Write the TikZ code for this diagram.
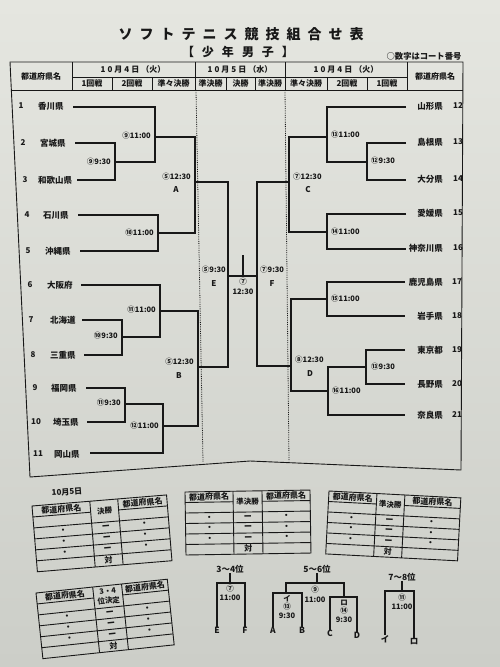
\documentclass[tikz,border=0pt]{standalone}
\usepackage{fontspec}
\setmainfont{Noto Sans CJK JP}
\definecolor{ink}{RGB}{24,24,24}
\definecolor{papertop}{RGB}{229,230,224}
\definecolor{paperbot}{RGB}{204,206,200}
\newcommand\gapa{\hspace{2pt}}
\newcommand\gapt{\hspace{7pt}}
\newcommand\gaps{\hspace{8pt}}
\tikzset{
  ln/.style={draw=ink, line width=1.1pt},
  tl/.style={draw=ink, line width=0.9pt},
  dl/.style={draw=ink, line width=0.8pt, densely dotted},
  tm/.style={font=\fontsize{8.5}{8.5}\selectfont\bfseries, text=ink, inner sep=0pt},
  nm/.style={font=\fontsize{8}{8}\selectfont\bfseries, text=ink, inner sep=0pt},
  ct/.style={font=\fontsize{7.5}{7.5}\selectfont\bfseries, text=ink, inner sep=0pt},
  hd/.style={font=\fontsize{8}{8.5}\selectfont\bfseries, text=ink, inner sep=0pt},
  lt/.style={font=\fontsize{8.5}{8.5}\selectfont\bfseries, text=ink, inner sep=0pt},
}
\newcommand\kumitable[8]{%
 \begin{scope}[shift={#2}, rotate=#3, transform shape]
  \draw[tl] (0,0) rectangle (#6,{6*#7});
  \draw[tl] (#4,0) -- (#4,{6*#7}) (#5,0) -- (#5,{6*#7});
  \draw[tl] (0,#7) -- (#4,#7) (#5,#7) -- (#6,#7);
  \foreach \r in {2,3,4,5} \draw[tl] (0,{\r*#7}) -- (#6,{\r*#7});
  \node[hd] (#1a) at ({#4/2},{#7/2}) {都道府県名};
  \node[hd] (#1c) at ({(#5+#6)/2},{#7/2}) {都道府県名};
  \node[hd, align=center, font=\fontsize{7.5}{9.5}\selectfont\bfseries] (#1b) at ({(#4+#5)/2},#7) {#8};
  \foreach \r in {2,3,4} {
    \node[hd] (#1l\r) at ({#4/2},{(\r+0.5)*#7}) {・};
    \node[hd] (#1m\r) at ({(#4+#5)/2},{(\r+0.5)*#7}) {ー};
    \node[hd] (#1r\r) at ({(#5+#6)/2},{(\r+0.5)*#7}) {・};
  }
  \node[hd] (#1v) at ({(#4+#5)/2},{5.5*#7}) {対};
 \end{scope}}
\begin{document}
\begin{tikzpicture}[x=1pt, y=-1pt]
\shade[top color=papertop, bottom color=paperbot] (0,0) rectangle (500,667);
\useasboundingbox (0,0) rectangle (500,667);

% titles
\node[font=\fontsize{14}{14}\selectfont\bfseries, text=ink, inner sep=0pt] (title) at (241,34)
  {ソ\gapt フ\gapt ト\gapt テ\gapt ニ\gapt ス\gapt 競\gapt 技\gapt 組\gapt 合\gapt せ\gapt 表};
\node[font=\fontsize{12}{12}\selectfont\bfseries, text=ink, inner sep=0pt] (subtitle) at (238,52)
  {【\gaps 少\gaps 年\gaps 男\gaps 子\gaps 】};
\node[font=\fontsize{8.3}{8.3}\selectfont\bfseries, text=ink, inner sep=0pt] (note) at (424,56) {○数字はコート番号};

% main frame
\draw[tl] (10,62) -- (463,62) -- (461,470) -- (250,461) -- (30,477) -- cycle;
\draw[tl] (72,62) -- (72,90) (407,62) -- (407,90);
\draw[tl] (72,77) -- (407,77);
\draw[tl] (11.4,90) -- (463,90);
\draw[tl] (195,62) -- (195,77) (285,62) -- (285,77);
\foreach \cx in {112,152,195,226,255,285,327,367} \draw[tl] (\cx,77) -- (\cx,90);
\draw[dl] (196,90) -- (203,462);
\draw[dl] (285,90) -- (289,461);

% header texts
\node[hd] (h1) at (41,76) {都道府県名};
\node[hd] (h2) at (435,76) {都道府県名};
\node[hd] (h3) at (133,69.5) {1\gapa 0\gapa 月\gapa 4\gapa 日\gapa （火）};
\node[hd] (h4) at (240,69.5) {1\gapa 0\gapa 月\gapa 5\gapa 日\gapa （水）};
\node[hd] (h5) at (346,69.5) {1\gapa 0\gapa 月\gapa 4\gapa 日\gapa （火）};
\node[hd] (h6) at (92,83.5) {1回戦};
\node[hd] (h7) at (132,83.5) {2回戦};
\node[hd] (h8) at (173.5,83.5) {準々決勝};
\node[hd] (h9) at (210.5,83.5) {準決勝};
\node[hd] (h10) at (240.5,83.5) {決勝};
\node[hd] (h11) at (270,83.5) {準決勝};
\node[hd] (h12) at (306,83.5) {準々決勝};
\node[hd] (h13) at (347,83.5) {2回戦};
\node[hd] (h14) at (387,83.5) {1回戦};

% left teams
\node[nm] (k1) at (21,106) {1};  \node[tm, anchor=west] (n1) at (38,106) {香川県};
\node[nm] (k2) at (23,143) {2};  \node[tm, anchor=west] (n2) at (40,143) {宮城県};
\node[nm] (k3) at (25,180) {3};  \node[tm, anchor=west] (n3) at (38,180) {和歌山県};
\node[nm] (k4) at (27,215) {4};  \node[tm, anchor=west] (n4) at (43,215) {石川県};
\node[nm] (k5) at (28,251) {5};  \node[tm, anchor=west] (n5) at (45,251) {沖縄県};
\node[nm] (k6) at (30,285) {6};  \node[tm, anchor=west] (n6) at (47,285) {大阪府};
\node[nm] (k7) at (31,320) {7};  \node[tm, anchor=west] (n7) at (50,320) {北海道};
\node[nm] (k8) at (33,355) {8};  \node[tm, anchor=west] (n8) at (50,355) {三重県};
\node[nm] (k9) at (35,388) {9};  \node[tm, anchor=west] (n9) at (51,388) {福岡県};
\node[nm] (k10) at (36,422) {10}; \node[tm, anchor=west] (n10) at (53,422) {埼玉県};
\node[nm] (k11) at (38,454) {11}; \node[tm, anchor=west] (n11) at (54,454) {岡山県};

% right teams
\node[nm] (k12) at (458,106) {12}; \node[tm, anchor=east] (n12) at (443,106) {山形県};
\node[nm] (k13) at (458,142) {13}; \node[tm, anchor=east] (n13) at (443,142) {島根県};
\node[nm] (k14) at (458,179) {14}; \node[tm, anchor=east] (n14) at (443,179) {大分県};
\node[nm] (k15) at (458,213) {15}; \node[tm, anchor=east] (n15) at (443,213) {愛媛県};
\node[nm] (k16) at (458,248) {16}; \node[tm, anchor=east] (n16) at (443,248) {神奈川県};
\node[nm] (k17) at (457,282) {17}; \node[tm, anchor=east] (n17) at (443,282) {鹿児島県};
\node[nm] (k18) at (457,316) {18}; \node[tm, anchor=east] (n18) at (443,316) {岩手県};
\node[nm] (k19) at (457,350) {19}; \node[tm, anchor=east] (n19) at (443,350) {東京都};
\node[nm] (k20) at (457,384) {20}; \node[tm, anchor=east] (n20) at (443,384) {長野県};
\node[nm] (k21) at (457,415) {21}; \node[tm, anchor=east] (n21) at (443,415) {奈良県};

% coordinates of line ends and joints
\coordinate (L1) at (73,107);
\coordinate (L2) at (75,143);
\coordinate (L3) at (77,180);
\coordinate (L4) at (78,215);
\coordinate (L5) at (80,251);
\coordinate (L6) at (81,285);
\coordinate (L7) at (82,320);
\coordinate (L8) at (84,355);
\coordinate (L9) at (86,388);
\coordinate (L10) at (87,422);
\coordinate (L11) at (90,453);
\coordinate (m23) at (115,162);
\coordinate (m123) at (155,137);
\coordinate (m45) at (158,233);
\coordinate (mA) at (195,182);
\coordinate (m78) at (122,337);
\coordinate (m678) at (160,311);
\coordinate (m910) at (125,404);
\coordinate (m91011) at (163,426);
\coordinate (mB) at (198,367);
\coordinate (mE) at (228,276);
\coordinate (R12) at (406,107);
\coordinate (R13) at (406,143);
\coordinate (R14) at (406,180);
\coordinate (R15) at (406,214);
\coordinate (R16) at (406,249);
\coordinate (R17) at (405,282);
\coordinate (R18) at (405,316);
\coordinate (R19) at (405,350);
\coordinate (R20) at (405,384);
\coordinate (R21) at (405,415);
\coordinate (m1314) at (367,162);
\coordinate (m121314) at (327,137);
\coordinate (m1516) at (327,232);
\coordinate (mC) at (289,182);
\coordinate (m1718) at (327,299);
\coordinate (m1920) at (366,367);
\coordinate (m192021) at (328,391);
\coordinate (mD) at (291,366);
\coordinate (mF) at (257,276);
\coordinate (fin) at (243,276);
\coordinate (fintop) at (243,255);

% left bracket
\draw[ln] (L2) -| (m23) |- (L3);
\draw[ln] (L1) -| (m123) |- (m23);
\draw[ln] (L4) -| (m45) |- (L5);
\draw[ln] (m123) -| (mA) |- (m45);
\draw[ln] (L7) -| (m78) |- (L8);
\draw[ln] (L6) -| (m678) |- (m78);
\draw[ln] (L9) -| (m910) |- (L10);
\draw[ln] (m910) -| (m91011) |- (L11);
\draw[ln] (m678) -| (mB) |- (m91011);
\draw[ln] (mA) -| (mE) |- (mB);
% right bracket
\draw[ln] (R13) -| (m1314) |- (R14);
\draw[ln] (R12) -| (m121314) |- (m1314);
\draw[ln] (R15) -| (m1516) |- (R16);
\draw[ln] (m121314) -| (mC) |- (m1516);
\draw[ln] (R17) -| (m1718) |- (R18);
\draw[ln] (R19) -| (m1920) |- (R20);
\draw[ln] (m1920) -| (m192021) |- (R21);
\draw[ln] (m1718) -| (mD) |- (m192021);
\draw[ln] (mC) -| (mF) |- (mD);
% final
\draw[ln] (mE) -- (mF);
\draw[ln] (fin) -- (fintop);

% match labels left
\node[ct, anchor=east] (c23) at (111,162) {⑨9:30};
\node[ct, anchor=east] (c123) at (151,136) {⑨11:00};
\node[ct, anchor=east] (c45) at (154,233) {⑩11:00};
\node[ct, anchor=east] (cA) at (191,177) {⑤12:30};
\node[hd] (lA) at (176,190) {A};
\node[ct, anchor=east] (c78) at (118,336) {⑩9:30};
\node[ct, anchor=east] (c678) at (156,310) {⑪11:00};
\node[ct, anchor=east] (c910) at (121,403) {⑪9:30};
\node[ct, anchor=east] (c91011) at (159,426) {⑫11:00};
\node[ct, anchor=east] (cB) at (194,362) {⑤12:30};
\node[hd] (lB) at (179,376) {B};
\node[ct, anchor=east] (cE) at (226,270) {⑤9:30};
\node[hd] (lE) at (214,284) {E};
\node[ct, anchor=west] (cF) at (260,270) {⑦9:30};
\node[hd] (lF) at (272,284) {F};
\node[ct] (cfin) at (243,282) {⑦};
\node[ct] (cfint) at (243,292) {12:30};
% match labels right
\node[ct, anchor=west] (c1314) at (371,161) {⑫9:30};
\node[ct, anchor=west] (c121314) at (331,135) {⑬11:00};
\node[ct, anchor=west] (c1516) at (331,232) {⑭11:00};
\node[ct, anchor=west] (cC) at (293,177) {⑦12:30};
\node[hd] (lC) at (308,190) {C};
\node[ct, anchor=west] (c1718) at (331,299) {⑮11:00};
\node[ct, anchor=west] (c1920) at (371,367) {⑬9:30};
\node[ct, anchor=west] (c192021) at (332,391) {⑯11:00};
\node[ct, anchor=west] (cD) at (295,360) {⑧12:30};
\node[hd] (lD) at (310,374) {D};

% lower tables
\node[font=\fontsize{8}{8}\selectfont\bfseries, text=ink, inner sep=0pt, rotate=4] (date5) at (67,492) {10月5日};
\kumitable{ta}{(32,506)}{4.7}{58}{86}{135}{11}{決勝}
\kumitable{tb}{(36,593)}{6}{57}{86}{132}{11}{3・4\\位決定}
\kumitable{tc}{(185,492)}{0.9}{48}{77}{125}{10.5}{準決勝}
\kumitable{td}{(329,491)}{-3}{48}{76}{132}{10.5}{準決勝}

% 3-4
\node[lt] (p34) at (230,569) {3～4位};
\coordinate (j34) at (230,583);
\node[ct] (c34) at (230,589) {⑦};
\node[ct] (c34t) at (230,598) {11:00};
\node[lt] (bE) at (217,630) {E};
\node[lt] (bF) at (245,630) {F};
\draw[ln] (p34.south) -- (j34);
\draw[ln] (bE.north) |- (j34) -| (bF.north);

% 5-6
\node[lt] (p56) at (317,569) {5～6位};
\coordinate (j56) at (317,583);
\coordinate (ji) at (286,593);
\coordinate (jro) at (344,597);
\node[ct] (c56) at (315,590) {⑨};
\node[ct] (c56t) at (315,600) {11:00};
\node[ct] (ci) at (287,599) {イ};
\node[ct] (ci2) at (287,607) {⑬};
\node[ct] (ci3) at (287,616) {9:30};
\node[ct] (cr) at (344,603) {ロ};
\node[ct] (cr2) at (344,611) {⑭};
\node[ct] (cr3) at (344,620) {9:30};
\node[lt] (bA) at (273,630) {A};
\node[lt] (bB) at (302,630) {B};
\node[lt] (bC) at (330,633) {C};
\node[lt] (bD) at (357,635) {D};
\draw[ln] (p56.south) -- (j56);
\draw[ln] (ji) |- (j56) -| (jro);
\draw[ln] (bA.north) |- (ji) -| (bB.north);
\draw[ln] (bC.north) |- (jro) -| (bD.north);

% 7-8
\node[lt] (p78) at (402,577) {7～8位};
\coordinate (j78) at (402,591);
\node[ct] (c78b) at (402,598) {⑪};
\node[ct] (c78t) at (402,607) {11:00};
\node[lt] (b7i) at (385,639) {イ};
\node[lt] (b7r) at (414,642) {ロ};
\draw[ln] (p78.south) -- (j78);
\draw[ln] (b7i.north) |- (j78) -| (b7r.north);
\end{tikzpicture}
\end{document}
